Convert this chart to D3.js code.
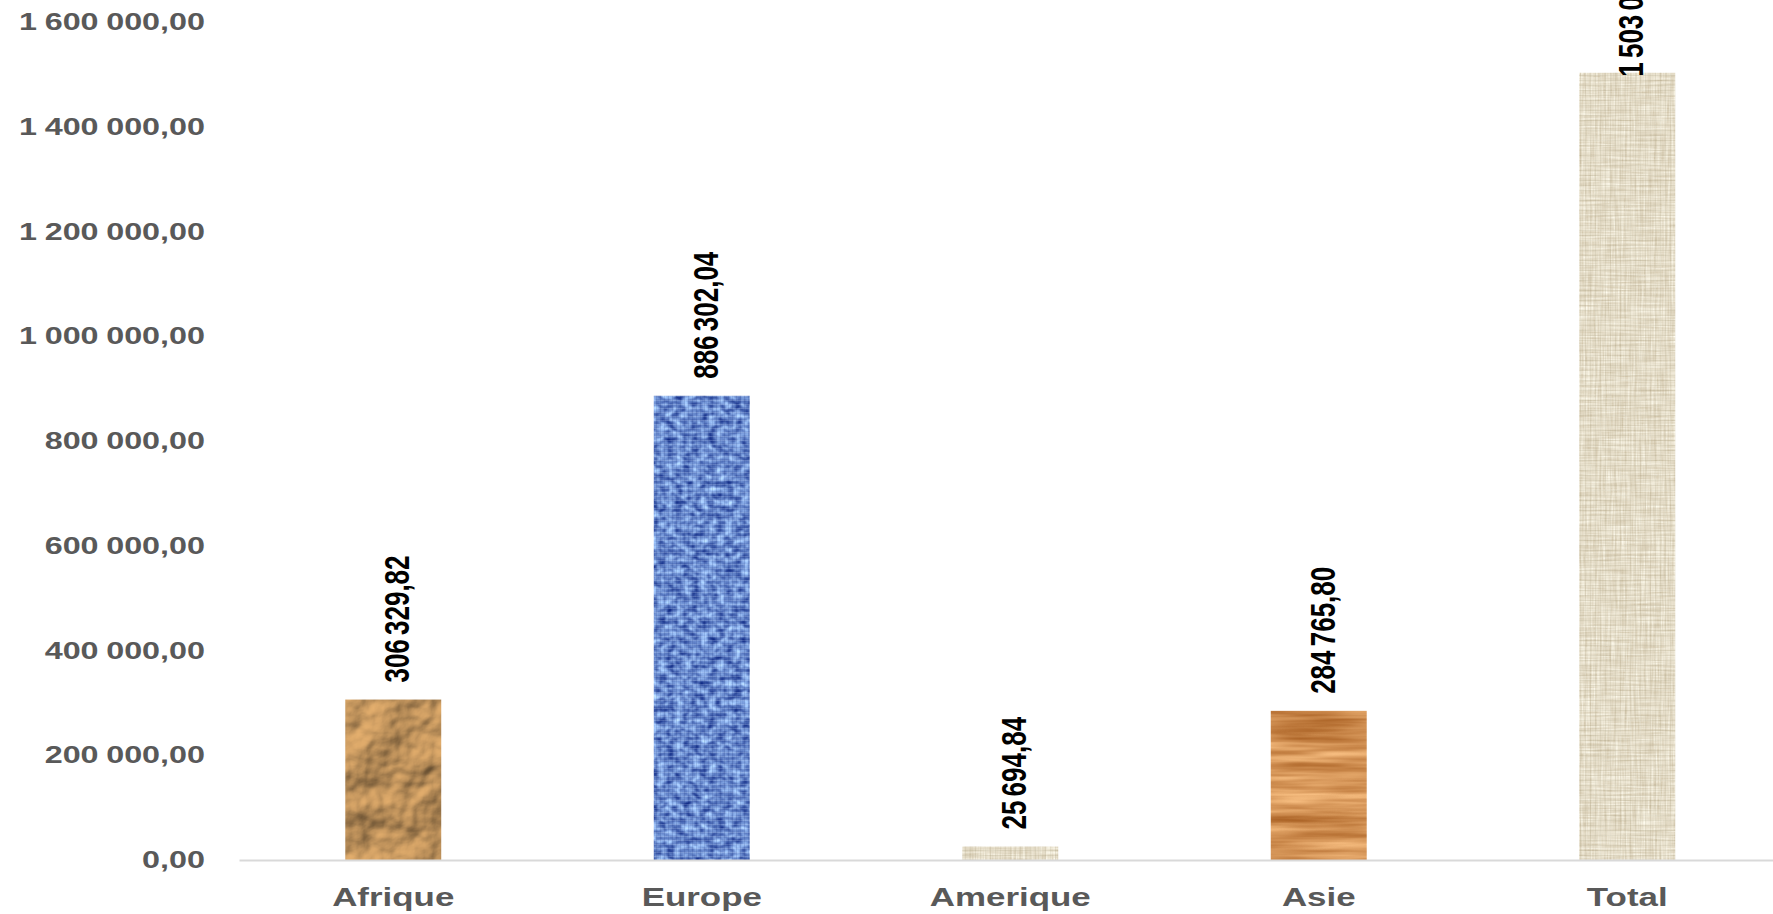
<!DOCTYPE html>
<html>
<head>
<meta charset="utf-8">
<script src="https://cdn.jsdelivr.net/npm/d3@7"></script>
<style>
  html, body { margin: 0; padding: 0; background: #ffffff; }
  svg { display: block; }
</style>
</head>
<body>
<svg id="chart" width="1773" height="914"></svg>
<script>
// ---- data ----
const categories = ["Afrique", "Europe", "Amerique", "Asie", "Total"];
const values = [306329.82, 886302.04, 25694.84, 284765.80, 1503092.50];
const yTicks = [0, 200000, 400000, 600000, 800000, 1000000, 1200000, 1400000, 1600000];

// ---- styles (textures per bar) ----
const barTextures = ["paper", "denim", "linen", "wood", "linen"];
const barOverlays = [null, "weave", "linenGrid", null, "linenGrid"];

const W = 1773, H = 914;
const stretch = 1.375; // horizontal stretch of text seen in the original picture

const svg = d3.select("#chart");
const defs = svg.append("defs");

// crumpled paper
{
  const f = defs.append("filter").attr("id", "paper").attr("color-interpolation-filters", "sRGB");
  f.append("feTurbulence").attr("type", "fractalNoise").attr("baseFrequency", "0.015")
    .attr("numOctaves", 4).attr("seed", 7).attr("result", "noise");
  const dl = f.append("feDiffuseLighting").attr("in", "noise").attr("surfaceScale", 10)
    .attr("diffuseConstant", 1).attr("lighting-color", "#e6b06e").attr("result", "light");
  dl.append("feDistantLight").attr("azimuth", 235).attr("elevation", 55);
  f.append("feComposite").attr("in", "light").attr("in2", "SourceGraphic").attr("operator", "in");
}
// blue denim
{
  const f = defs.append("filter").attr("id", "denim").attr("color-interpolation-filters", "sRGB");
  f.append("feTurbulence").attr("type", "fractalNoise").attr("baseFrequency", "0.12 0.16")
    .attr("numOctaves", 2).attr("seed", 3).attr("result", "noise");
  f.append("feColorMatrix").attr("in", "noise").attr("type", "matrix")
    .attr("values", "0.90 0 0 0 -0.05  0.97 0 0 0 0.045  0.73 0 0 0 0.435  0 0 0 0 1")
    .attr("result", "col");
  f.append("feComposite").attr("in", "col").attr("in2", "SourceGraphic").attr("operator", "in");
}
// linen canvas
{
  const f = defs.append("filter").attr("id", "linen").attr("color-interpolation-filters", "sRGB");
  f.append("feTurbulence").attr("type", "fractalNoise").attr("baseFrequency", "0.03 0.5")
    .attr("numOctaves", 2).attr("seed", 5).attr("result", "nh");
  f.append("feTurbulence").attr("type", "fractalNoise").attr("baseFrequency", "0.5 0.03")
    .attr("numOctaves", 2).attr("seed", 9).attr("result", "nv");
  f.append("feComposite").attr("in", "nh").attr("in2", "nv").attr("operator", "arithmetic")
    .attr("k1", 0).attr("k2", 0.5).attr("k3", 0.5).attr("k4", 0).attr("result", "n");
  f.append("feColorMatrix").attr("in", "n").attr("type", "matrix")
    .attr("values", "0.30 0 0 0 0.754  0.36 0 0 0 0.693  0.45 0 0 0 0.569  0 0 0 0 1")
    .attr("result", "col");
  f.append("feComposite").attr("in", "col").attr("in2", "SourceGraphic").attr("operator", "in");
}
// wood
{
  const f = defs.append("filter").attr("id", "wood").attr("color-interpolation-filters", "sRGB");
  f.append("feTurbulence").attr("type", "fractalNoise").attr("baseFrequency", "0.008 0.12")
    .attr("numOctaves", 3).attr("seed", 4).attr("result", "noise");
  f.append("feColorMatrix").attr("in", "noise").attr("type", "matrix")
    .attr("values", "0.45 0 0 0 0.615  0.54 0 0 0 0.32  0.54 0 0 0 0.08  0 0 0 0 1")
    .attr("result", "col");
  f.append("feComposite").attr("in", "col").attr("in2", "SourceGraphic").attr("operator", "in");
}
// weave overlay patterns
{
  const p = defs.append("pattern").attr("id", "weave").attr("patternUnits", "userSpaceOnUse")
    .attr("width", 4).attr("height", 4);
  p.append("rect").attr("x", 0).attr("y", 0).attr("width", 4).attr("height", 1).attr("fill", "rgba(210,228,255,0.22)");
  p.append("rect").attr("x", 0).attr("y", 0).attr("width", 1).attr("height", 4).attr("fill", "rgba(20,40,110,0.15)");
  const q = defs.append("pattern").attr("id", "linenGrid").attr("patternUnits", "userSpaceOnUse")
    .attr("width", 5).attr("height", 5);
  q.append("rect").attr("x", 0).attr("y", 0).attr("width", 5).attr("height", 1).attr("fill", "rgba(150,140,105,0.15)");
  q.append("rect").attr("x", 0).attr("y", 0).attr("width", 1).attr("height", 5).attr("fill", "rgba(150,140,105,0.12)");
}

// ---- scales ----
const x = d3.scaleBand().domain(categories).range([239, 1781.5]).paddingInner(0.689).paddingOuter(0.3445);
const y = d3.scaleLinear().domain([0, 1600000]).range([860, 22]);

const fr = d3.formatLocale({ decimal: ",", thousands: " ", grouping: [3], currency: ["", ""] });
const fmt = fr.format(",.2f");

// ---- y axis labels ----
const yAxis = svg.append("g")
  .attr("transform", `translate(205,0) scale(${stretch},1)`)
  .call(d3.axisLeft(y).tickValues(yTicks).tickFormat(fmt).tickSize(0).tickPadding(0));
yAxis.select(".domain").remove();
yAxis.selectAll("text")
  .attr("fill", "#595959")
  .style("font-family", "'Liberation Sans', Arial, sans-serif")
  .style("font-weight", "bold")
  .style("font-size", "23.5px")
  .style("word-spacing", "-1px");

// ---- x axis ----
const xAxis = svg.append("g")
  .attr("transform", "translate(0,860)")
  .call(d3.axisBottom(x).tickSize(0).tickSizeOuter(0).tickPadding(27.5));
xAxis.select(".domain").attr("stroke", "#d9d9d9").attr("stroke-width", 2);
xAxis.selectAll("text")
  .attr("fill", "#595959")
  .attr("transform", `scale(${stretch},1)`)
  .style("font-family", "'Liberation Sans', Arial, sans-serif")
  .style("font-weight", "bold")
  .style("font-size", "25.4px");

// ---- bars ----
const data = categories.map((c, i) => ({ c, v: values[i], tex: barTextures[i], ov: barOverlays[i] }));
const bars = svg.append("g");
bars.selectAll("rect.bar").data(data).join("rect")
  .attr("class", "bar")
  .attr("x", d => x(d.c))
  .attr("y", d => y(d.v))
  .attr("width", x.bandwidth())
  .attr("height", d => y(0) - y(d.v))
  .attr("fill", "#000")
  .attr("filter", d => `url(#${d.tex})`);
bars.selectAll("rect.ov").data(data.filter(d => d.ov)).join("rect")
  .attr("class", "ov")
  .attr("x", d => x(d.c))
  .attr("y", d => y(d.v))
  .attr("width", x.bandwidth())
  .attr("height", d => y(0) - y(d.v))
  .attr("fill", d => `url(#${d.ov})`);

// redraw the axis line above the bars
xAxis.raise();

// ---- value labels ----
const labels = svg.append("g");
labels.selectAll("g.lab").data(data).join("g")
  .attr("class", "lab")
  .each(function (d) {
    const g = d3.select(this);
    const t = g.append("text")
      .text(fmt(d.v))
      .attr("text-anchor", "start")
      .attr("dy", "0.45em")
      .attr("fill", "#000")
      .style("font-family", "'Liberation Sans', Arial, sans-serif")
      .style("font-weight", "bold")
      .style("font-size", "26px")
      .style("word-spacing", "-3px");
    const len = t.node().getComputedTextLength();
    const top = y(d.v);
    const off = (top - 17 - len < 0) ? -4 : 17;
    g.attr("transform", `translate(${x(d.c) + x.bandwidth() / 2},${top - off}) scale(${stretch},1) rotate(-90)`);
  });
</script>
</body>
</html>
